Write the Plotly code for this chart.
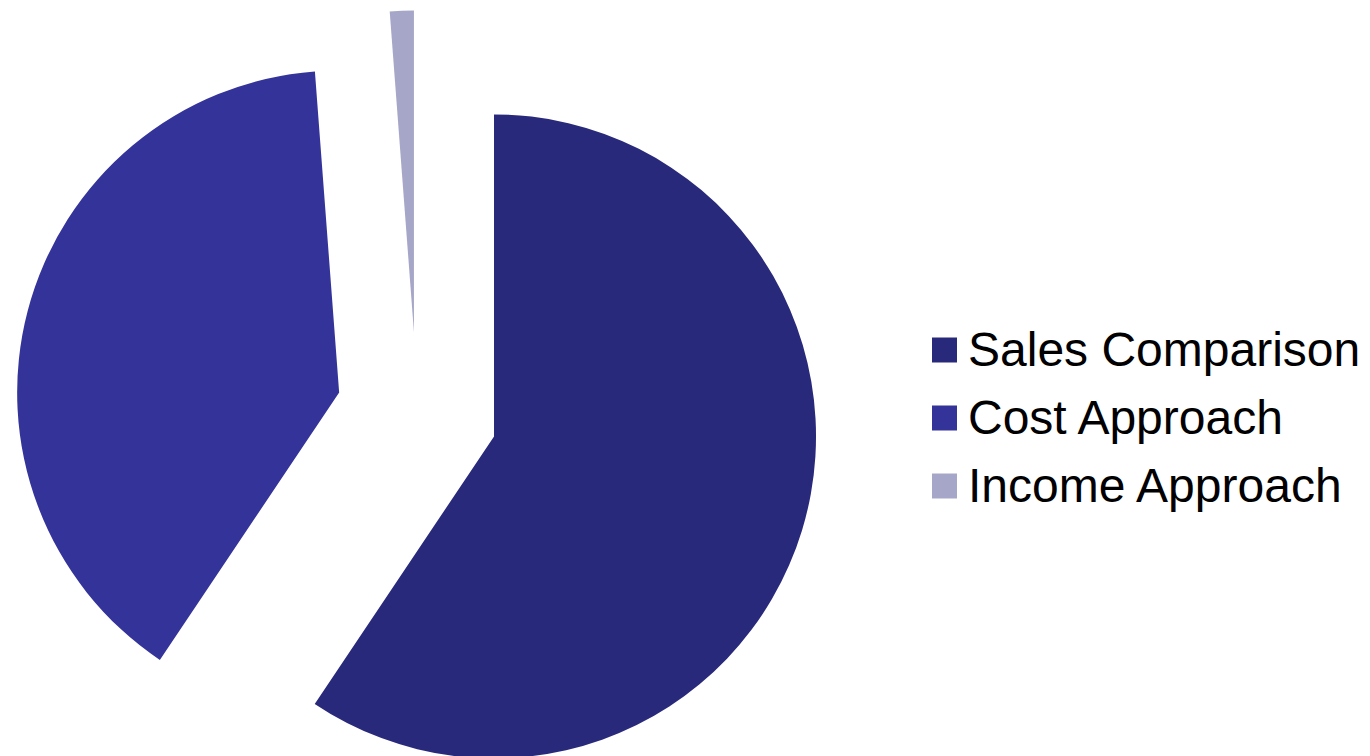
import plotly.graph_objects as go

# ---- data ----
categories = ["Sales Comparison", "Cost Approach", "Income Approach"]
values = [59.4, 39.4, 1.2]

# ---- style ----
colors = ["#29297B", "#333399", "#A6A6C8"]
PULL = 0.25
W, H = 1370, 826          # figure taller than window; bottom part is clipped like the reference
FONT = "Liberation Sans, Arial, sans-serif"

# pie box (pixels)
box_left, box_right = 14.5, 819.5

fig = go.Figure(
    go.Pie(
        labels=categories,
        values=values,
        sort=False,
        direction="clockwise",
        rotation=0,
        pull=[PULL] * len(values),
        textinfo="none",
        marker=dict(colors=colors, line=dict(width=0)),
        domain=dict(x=[box_left / W, box_right / W], y=[0, 1]),
        showlegend=False,
        hoverinfo="label+percent",
    )
)

# ---- custom legend (large squares + labels) ----
leg_sq_x0, leg_sq_x1 = 932, 957
leg_first_center = 350
leg_step = 68
sq_half = 12.5
text_x = 966

shapes = []
annotations = []
for i, (name, col) in enumerate(zip(categories, colors)):
    cy = leg_first_center + i * leg_step
    shapes.append(dict(
        type="rect", xref="paper", yref="paper",
        x0=leg_sq_x0 / W, x1=leg_sq_x1 / W,
        y0=1 - (cy + sq_half) / H, y1=1 - (cy - sq_half) / H,
        fillcolor=col, line=dict(width=0),
    ))
    annotations.append(dict(
        text=name, xref="paper", yref="paper",
        x=text_x / W, y=1 - (cy - 0.5) / H,
        xanchor="left", yanchor="middle", showarrow=False,
        font=dict(family=FONT, size=48, color="#000000"),
    ))

fig.update_layout(
    width=W, height=H, autosize=False,
    margin=dict(l=0, r=0, t=0, b=0),
    paper_bgcolor="white", plot_bgcolor="white",
    shapes=shapes, annotations=annotations,
    font=dict(family=FONT),
)

fig.write_html(
    "out.html",
    post_script="document.documentElement.style.overflow='hidden';document.body.style.overflow='hidden';document.body.style.margin='0';",
)
